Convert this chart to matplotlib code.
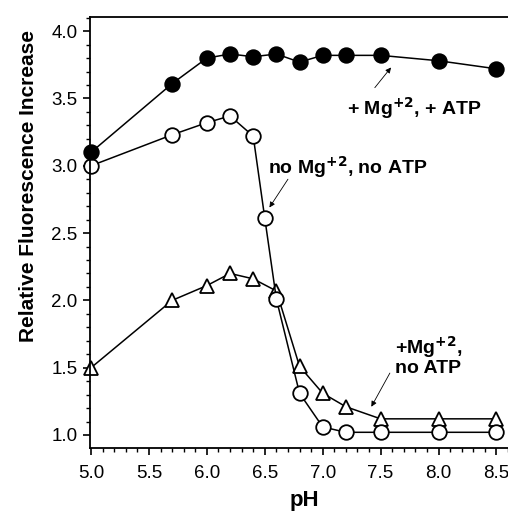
import numpy as np
import matplotlib.pyplot as plt
from matplotlib.ticker import MultipleLocator

# pH values and fluorescence readings
ph_atp = [5.0, 5.7, 6.0, 6.2, 6.4, 6.6, 6.8, 7.0, 7.2, 7.5, 8.0, 8.5]
fl_atp = [3.10, 3.61, 3.80, 3.83, 3.81, 3.83, 3.77, 3.82, 3.82, 3.82, 3.78, 3.72]

ph_none = [5.0, 5.7, 6.0, 6.2, 6.4, 6.5, 6.6, 6.8, 7.0, 7.2, 7.5, 8.0, 8.5]
fl_none = [3.00, 3.23, 3.32, 3.37, 3.22, 2.61, 2.01, 1.31, 1.06, 1.02, 1.02, 1.02, 1.02]

ph_mg = [5.0, 5.7, 6.0, 6.2, 6.4, 6.6, 6.8, 7.0, 7.2, 7.5, 8.0, 8.5]
fl_mg = [1.50, 2.00, 2.11, 2.20, 2.16, 2.07, 1.51, 1.31, 1.21, 1.12, 1.12, 1.12]

xticks = [5.0, 5.5, 6.0, 6.5, 7.0, 7.5, 8.0, 8.5]
yticks = [1.0, 1.5, 2.0, 2.5, 3.0, 3.5, 4.0]

plt.rcParams['font.family'] = ['Liberation Sans', 'DejaVu Sans']

fig = plt.figure(figsize=(5.08, 5.15), dpi=100)
ax = fig.add_axes([0.177, 0.130, 0.823, 0.837])

style = dict(color='black', lw=1.1, markersize=10.5, markeredgewidth=1.3, clip_on=False)
ax.plot(ph_mg, fl_mg, marker='^', markerfacecolor='white', **style)
ax.plot(ph_none, fl_none, marker='o', markerfacecolor='white', **style)
ax.plot(ph_atp, fl_atp, marker='o', markerfacecolor='black', **style)

ax.set_xlim(4.99, 8.6)
ax.set_ylim(0.903, 4.105)
ax.set_xticks(xticks)
ax.set_yticks(yticks)
ax.set_xticklabels([f'{v:.1f}' for v in xticks])
ax.set_yticklabels([f'{v:.1f}' for v in yticks])
ax.xaxis.set_minor_locator(MultipleLocator(0.1))
ax.yaxis.set_minor_locator(MultipleLocator(0.1))
ax.tick_params(which='major', direction='out', length=5, width=1.2, labelsize=13.5)
ax.tick_params(which='minor', direction='out', length=3, width=1.0)
ax.tick_params(axis='x', which='major', pad=7)
ax.tick_params(axis='y', which='major', pad=4)
ax.spines['right'].set_visible(False)
for s in ['left', 'bottom', 'top']:
    ax.spines[s].set_linewidth(1.3)

ax.set_xlabel('pH', fontsize=16, fontweight='bold')
ax.xaxis.set_label_coords(0.514, -0.097)
ax.set_ylabel('Relative Fluorescence Increase', fontsize=15, fontweight='bold')
ax.yaxis.set_label_coords(-0.124, 0.608)

# labels and thin arrows
lab = dict(fontsize=14, fontweight='bold', ha='left', va='center')
arrow = dict(arrowstyle='-|>', color='black', lw=0.6, mutation_scale=8, shrinkA=0, shrinkB=0)

ax.text(7.21, 3.43, r'+ Mg$^{\mathbf{+2}}$, + ATP', **lab)
ax.annotate('', xy=(7.59, 3.73), xytext=(7.45, 3.58), arrowprops=arrow)

ax.text(6.53, 2.99, r'no Mg$^{\mathbf{+2}}$, no ATP', **lab)
ax.annotate('', xy=(6.54, 2.69), xytext=(6.70, 2.90), arrowprops=arrow)

ax.text(7.62, 1.59, '+Mg$^{\\mathbf{+2}}$,\nno ATP', linespacing=1.0, **lab)
ax.annotate('', xy=(7.42, 1.21), xytext=(7.58, 1.46), arrowprops=arrow)

fig.savefig('out.png', dpi=100)
